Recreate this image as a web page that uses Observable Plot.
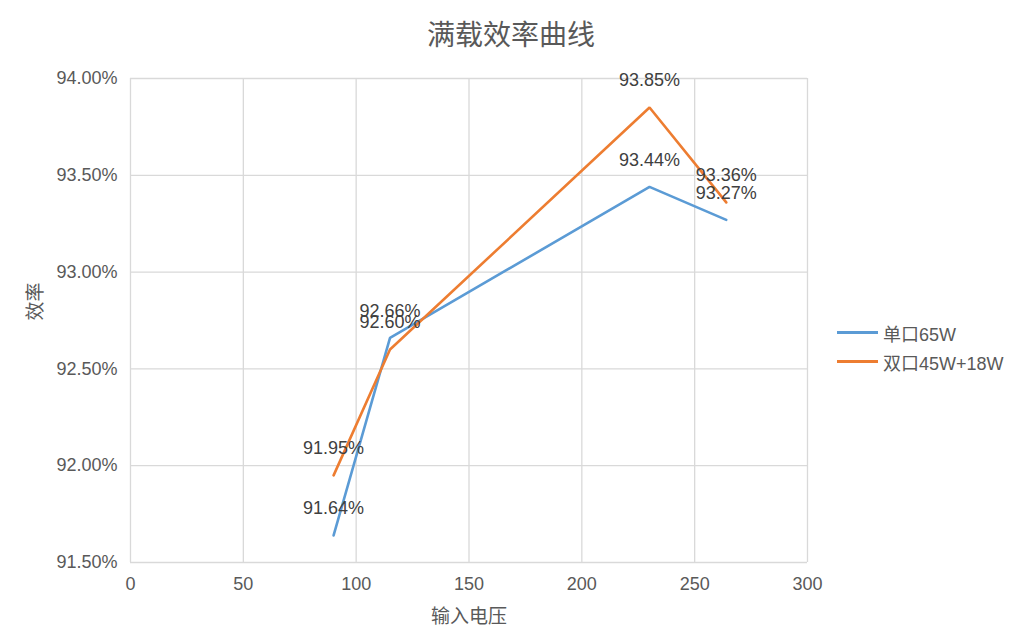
<!DOCTYPE html>
<html>
<head>
<meta charset="utf-8">
<script src="https://cdn.jsdelivr.net/npm/d3@7"></script>
<script src="https://cdn.jsdelivr.net/npm/@observablehq/plot@0.6"></script>
<style>
  body { margin: 0; background: #fff; }
  #wrap { position: relative; width: 1022px; height: 631px; font-family: "Liberation Sans", Arial, "Noto Sans CJK SC", sans-serif; color: #595959; }
  #title { position: absolute; left: 0; width: 1022px; top: 13px; line-height: 40px; text-align: center; font-size: 28px; font-family: "Noto Sans CJK SC", sans-serif; color: #595959; }
  #legend { position: absolute; left: 837px; top: 318px; font-size: 18px; font-family: "Liberation Sans", "Noto Sans CJK SC", sans-serif; color: #595959; }
  .item { display: flex; align-items: center; height: 29px; }
  .swatch { width: 41px; height: 3px; margin-right: 5px; }
</style>
</head>
<body>
<div id="wrap">
  <div id="title">满载效率曲线</div>
  <div id="legend"></div>
</div>
<script>
const voltages = [90, 115, 230, 264];
const seriesNames = ["单口65W", "双口45W+18W"];
const single65 = [91.64, 92.66, 93.44, 93.27];
const dual45 = [91.95, 92.60, 93.85, 93.36];
const colors = ["#5B9BD5", "#ED7D31"];
const xTicks = [0, 50, 100, 150, 200, 250, 300];
const yTicks = [91.5, 92.0, 92.5, 93.0, 93.5, 94.0];
const xTitle = "输入电压";
const yTitle = "效率";

const rows = [];
[single65, dual45].forEach((vals, si) => {
  vals.forEach((v, i) => rows.push({series: seriesNames[si], x: voltages[i], y: v}));
});

const font = "'Liberation Sans', Arial, 'Noto Sans CJK SC', sans-serif";
const cjk = "'Noto Sans CJK SC', sans-serif";

const chart = Plot.plot({
  width: 1022,
  height: 631,
  marginLeft: 130,
  marginRight: 215,
  marginTop: 78,
  marginBottom: 69,
  style: {fontFamily: font, fontSize: "18px", color: "#595959", background: "transparent"},
  x: {domain: [0, 300], ticks: xTicks, tickSize: 0, label: null},
  y: {domain: [91.5, 94], ticks: yTicks, tickSize: 0, label: null,
      tickFormat: d => d.toFixed(2) + "%"},
  color: {domain: seriesNames, range: colors},
  marks: [
    Plot.ruleX(xTicks, {stroke: "#d9d9d9", strokeWidth: 1.3}),
    Plot.ruleY(yTicks, {stroke: "#d9d9d9", strokeWidth: 1.3}),
    Plot.axisX({ticks: xTicks, tickSize: 0, tickPadding: 15, fontSize: 18, fill: "#595959", label: null}),
    Plot.axisY({ticks: yTicks, tickSize: 0, tickPadding: 13, fontSize: 18, fill: "#595959", label: null, tickFormat: d => d.toFixed(2) + "%"}),
    Plot.line(rows, {x: "x", y: "y", z: "series", stroke: "series", strokeWidth: 2.6, strokeLinejoin: "miter"}),
    Plot.text(rows, {x: "x", y: "y", text: d => d.y.toFixed(2) + "%", dy: -27, fontSize: 18, fill: "#404040"}),
    Plot.text([xTitle], {frameAnchor: "bottom", text: d => d, dy: 60, fontSize: 19, fontFamily: cjk, fill: "#595959"}),
    Plot.text([yTitle], {frameAnchor: "left", text: d => d, dx: -95, rotate: -90, fontSize: 19, fontFamily: cjk, fill: "#595959"})
  ]
});
document.getElementById("wrap").prepend(chart);
chart.style.position = "absolute";
chart.style.left = "0";
chart.style.top = "0";

const legend = document.getElementById("legend");
seriesNames.forEach((n, i) => {
  const it = document.createElement("div");
  it.className = "item";
  it.innerHTML = `<span class="swatch" style="background:${colors[i]}"></span><span>${n}</span>`;
  legend.appendChild(it);
});
</script>
</body>
</html>
